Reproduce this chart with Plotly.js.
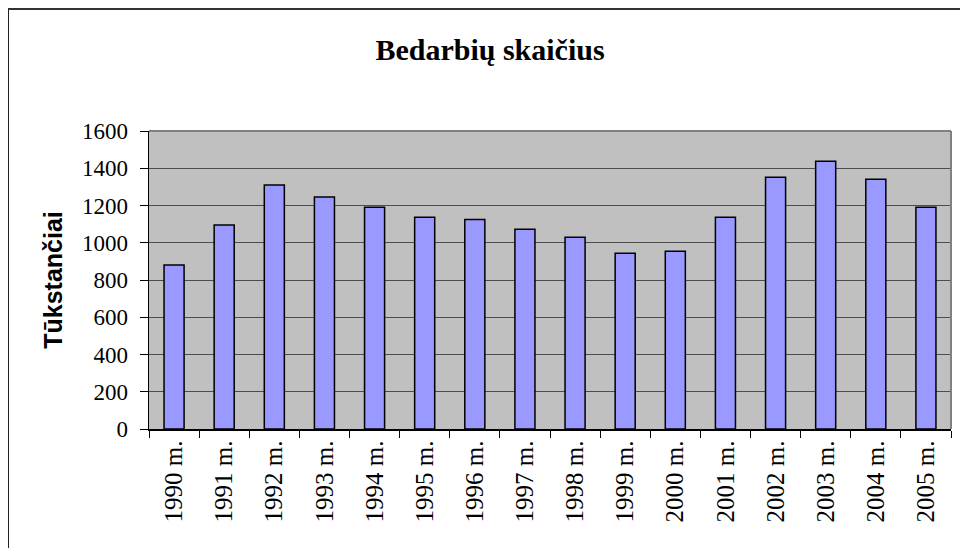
<!DOCTYPE html>
<html>
<head>
<meta charset="utf-8">
<script src="https://cdn.plot.ly/plotly-3.0.1.min.js"></script>
<style>
  html, body { margin: 0; padding: 0; background: #ffffff; overflow: hidden; }
  #chart { width: 960px; height: 548px; position: relative; }
  #frame { position: absolute; left: 8px; top: 8px; width: 980px; height: 580px;
           border-left: 1.5px solid #222; border-top: 2px solid #333; pointer-events: none; }
</style>
</head>
<body>
<div id="chart"></div>
<div id="frame"></div>
<script>
const categories = ["1990 m.", "1991 m.", "1992 m.", "1993 m.", "1994 m.", "1995 m.", "1996 m.", "1997 m.",
                    "1998 m.", "1999 m.", "2000 m.", "2001 m.", "2002 m.", "2003 m.", "2004 m.", "2005 m."];
const unemployed = [880, 1095, 1310, 1245, 1190, 1137, 1125, 1073, 1030, 944, 955, 1137, 1352, 1437, 1341, 1191];
const yTicks = [0, 200, 400, 600, 800, 1000, 1200, 1400, 1600];

const serif = "'Liberation Serif', 'Times New Roman', serif";
const sans = "'Liberation Sans', Arial, sans-serif";

const trace = {
  type: "bar",
  x: categories,
  y: unemployed,
  marker: { color: "#9999ff", line: { color: "#000000", width: 1.5 } },
  hoverinfo: "x+y"
};

const layout = {
  width: 960,
  height: 548,
  margin: { l: 149, r: 9, t: 131, b: 119, pad: 0 },
  paper_bgcolor: "#ffffff",
  plot_bgcolor: "#c0c0c0",
  showlegend: false,
  bargap: 0.6,
  title: {
    text: "<b>Bedarbių skaičius</b>",
    font: { family: serif, size: 30, color: "#000000" },
    xref: "container", yref: "container",
    x: 490 / 960, xanchor: "center",
    y: 1 - 49 / 548, yanchor: "middle"
  },
  xaxis: {
    type: "category",
    tickangle: -90,
    tickson: "boundaries",
    ticks: "outside",
    ticklen: 7,
    tickcolor: "#000000",
    tickwidth: 1,
    showline: true,
    linecolor: "#000000",
    linewidth: 1.5,
    showgrid: false,
    tickfont: { family: serif, size: 25, color: "#000000" },
    automargin: false
  },
  yaxis: {
    range: [0, 1600],
    tickvals: yTicks,
    ticktext: yTicks.map(String),
    ticks: "outside",
    ticklen: 8,
    tickcolor: "#000000",
    tickwidth: 1,
    showline: true,
    linecolor: "#000000",
    linewidth: 1.5,
    showgrid: true,
    gridcolor: "#4d4d4d",
    gridwidth: 1,
    zeroline: false,
    ticklabelstandoff: 7,
    tickfont: { family: serif, size: 23, color: "#000000" },
    title: {
      text: "<b>Tūkstančiai</b>",
      font: { family: sans, size: 25, color: "#000000" },
      standoff: 12
    },
    automargin: false
  },
  shapes: [
    { type: "line", xref: "paper", yref: "paper", x0: 0, x1: 1, y0: 1, y1: 1,
      line: { color: "#808080", width: 2 }, layer: "above" },
    { type: "line", xref: "paper", yref: "paper", x0: 1, x1: 1, y0: 0, y1: 1,
      line: { color: "#808080", width: 2 }, layer: "above" }
  ]
};

Plotly.newPlot("chart", [trace], layout, { displayModeBar: false, staticPlot: true });
</script>
</body>
</html>
